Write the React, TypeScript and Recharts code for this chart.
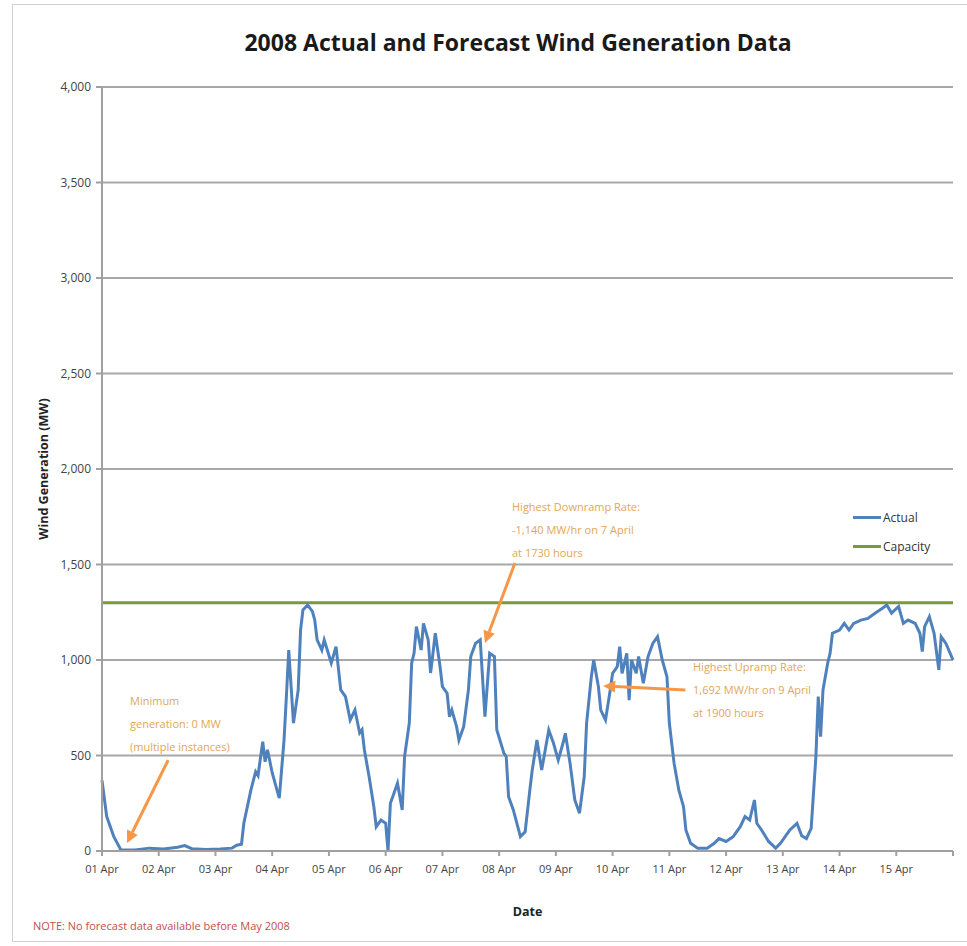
import React from "react";
import {
  LineChart,
  Line,
  XAxis,
  YAxis,
  CartesianGrid,
  Legend,
  ReferenceLine,
} from "recharts";

// hours since 01 Apr 00:00
const hours = [
  0, 2, 5, 8, 14, 20, 26, 32, 35, 38, 44, 50, 55, 57, 59, 60, 63, 65, 66, 68, 69, 70, 72, 74, 75, 77, 78, 79, 81, 83,
  84, 85, 87, 89, 90, 91, 93, 94, 97, 99, 101, 103, 105, 107, 109, 110, 111, 113, 115, 116, 118, 120, 121, 122, 124,
  125, 127, 128, 130, 131, 132, 133, 135, 136, 138, 139, 140, 141, 143, 144, 146, 147, 148, 150, 151, 153, 155, 156,
  158, 160, 162, 164, 166, 167, 170, 171, 172, 174, 177, 179, 181, 182, 184, 186, 189, 191, 193, 195, 196, 198, 200,
  202, 204, 205, 207, 208, 210, 211, 213, 215, 216, 218, 219, 220, 222, 223, 224, 226, 227, 229, 231, 233, 235, 237,
  239, 240, 242, 244, 246, 247, 249, 252, 256, 259, 261, 264, 267, 270, 272, 274, 276, 277, 279, 282, 285, 287, 289,
  291, 294, 296, 298, 300, 302, 303, 304, 305, 307, 308, 309, 312, 314, 316, 318, 321, 324, 327, 330, 332, 334, 337,
  339, 341, 344, 346, 347, 348, 350, 352, 354, 355, 357, 360,
];

const actualMW = [
  370, 180, 75, 5, 5, 15, 10, 20, 28, 12, 8, 10, 15, 30, 35, 145, 320, 415, 395, 572, 467, 530, 410, 320, 277, 580, 808,
  1052, 670, 843, 1157, 1262, 1288, 1255, 1209, 1105, 1052, 1105, 984, 1070, 843, 808, 686, 738, 618, 635, 529, 389,
  232, 127, 162, 145, 0, 250, 320, 355, 215, 494, 670, 984, 1035, 1175, 1052, 1192, 1105, 932, 1035, 1140, 966, 860,
  826, 703, 738, 651, 581, 651, 843, 1018, 1087, 1105, 703, 1035, 1018, 635, 512, 494, 284, 215, 75, 100, 320, 424, 581,
  424, 633, 564, 476, 564, 616, 460, 267, 198, 390, 670, 912, 1000, 860, 738, 686, 843, 930, 966, 1070, 930, 1035, 790,
  1000, 930, 1018, 878, 1018, 1087, 1122, 1000, 912, 670, 460, 320, 232, 110, 40, 15, 15, 40, 65, 50, 75, 127, 180, 162,
  267, 145, 110, 50, 15, 40, 75, 110, 145, 80, 65, 118, 494, 808, 598, 843, 984, 1035, 1140, 1157, 1192, 1157, 1192,
  1209, 1218, 1245, 1270, 1288, 1245, 1280, 1192, 1209, 1192, 1140, 1044, 1175, 1227, 1140, 948, 1122, 1087, 1000,
];

const CAPACITY = 1300;

const dayLabels = [
  "01 Apr", "02 Apr", "03 Apr", "04 Apr", "05 Apr", "06 Apr", "07 Apr", "08 Apr",
  "09 Apr", "10 Apr", "11 Apr", "12 Apr", "13 Apr", "14 Apr", "15 Apr",
];
const xTicks = [0, 24, 48, 72, 96, 120, 144, 168, 192, 216, 240, 264, 288, 312, 336, 360];
const yTicks = [0, 500, 1000, 1500, 2000, 2500, 3000, 3500, 4000];

// annotation arrows, in data units (hour, MW)
const arrows = [
  { from: { x: 28, y: 476 }, to: { x: 10.6, y: 42 } },
  { from: { x: 174.7, y: 1508 }, to: { x: 162, y: 1089 } },
  { from: { x: 246.8, y: 843 }, to: { x: 212, y: 864 } },
];

const notes = [
  { left: 130, top: 689, lines: ["Minimum", "generation: 0 MW", "(multiple instances)"] },
  { left: 512, top: 495, lines: ["Highest Downramp Rate:", "-1,140 MW/hr on 7 April", "at 1730 hours"] },
  { left: 693, top: 655, lines: ["Highest Upramp Rate:", "1,692 MW/hr on 9 April", "at 1900 hours"] },
];

const data = hours.map((h, i) => ({ hour: h, actual: actualMW[i], capacity: CAPACITY }));

const ORANGE = "#F79646";
const FONT = "'Open Sans', sans-serif";

function Arrow(props: any) {
  const { x1, y1, x2, y2 } = props;
  const dx = x2 - x1;
  const dy = y2 - y1;
  const len = Math.sqrt(dx * dx + dy * dy) || 1;
  const ux = dx / len;
  const uy = dy / len;
  const hl = 12;
  const hw = 6;
  const bx = x2 - ux * hl;
  const by = y2 - uy * hl;
  const pts = `${x2},${y2} ${bx - uy * hw},${by + ux * hw} ${bx + uy * hw},${by - ux * hw}`;
  return (
    <g>
      <line x1={x1} y1={y1} x2={bx} y2={by} stroke={ORANGE} strokeWidth={3} />
      <polygon points={pts} fill={ORANGE} />
    </g>
  );
}

function LegendBox() {
  const items = [
    { name: "Actual", color: "#4F81BD" },
    { name: "Capacity", color: "#7A9A3A" },
  ];
  return (
    <div style={{ fontFamily: FONT, fontSize: 12, color: "#333" }}>
      {items.map((it) => (
        <div key={it.name} style={{ display: "flex", alignItems: "center", height: 29 }}>
          <span style={{ display: "inline-block", width: 28, height: 3, background: it.color, marginRight: 2 }} />
          <span>{it.name}</span>
        </div>
      ))}
    </div>
  );
}

export default function App() {
  return (
    <div style={{ position: "absolute", left: 0, top: 0, width: 967, height: 946, background: "#fff" }}>
      <div
        style={{
          position: "absolute",
          left: 12,
          top: 4,
          width: 960,
          height: 936,
          border: "1px solid #d0d0d0",
        }}
      />
      <div
        style={{
          position: "absolute",
          left: 0,
          top: 26,
          width: 1036,
          textAlign: "center",
          fontFamily: FONT,
          fontWeight: 700,
          fontSize: 23,
          color: "#1a1a1a",
        }}
      >
        2008 Actual and Forecast Wind Generation Data
      </div>
      <LineChart width={967} height={946} data={data} margin={{ top: 87, right: 14, bottom: 65, left: 30 }}>
        <CartesianGrid vertical={false} stroke="#a8a8a8" strokeWidth={2} />
        <XAxis
          dataKey="hour"
          type="number"
          domain={[0, 360]}
          ticks={xTicks}
          interval={0}
          tickFormatter={(v: number) => dayLabels[v / 24] ?? ""}
          height={30}
          stroke="#a0a0a0"
          strokeWidth={2}
          tickSize={5}
          tickMargin={9}
          tick={{ fill: "#444", fontSize: 11, fontFamily: FONT }}
          label={{ value: "Date", position: "bottom", offset: 26, fill: "#222", fontSize: 12.5, fontWeight: 700, fontFamily: FONT }}
        />
        <YAxis
          domain={[0, 4000]}
          ticks={yTicks}
          interval={0}
          width={72}
          tickFormatter={(v: number) => v.toLocaleString("en-US")}
          stroke="#a0a0a0"
          strokeWidth={2}
          tickSize={6}
          tickMargin={5}
          tick={{ fill: "#444", fontSize: 12, fontFamily: FONT }}
          label={{
            value: "Wind Generation (MW)",
            angle: -90,
            position: "insideLeft",
            offset: 14,
            style: { textAnchor: "middle", fill: "#222", fontSize: 12.5, fontWeight: 700, fontFamily: FONT },
          }}
        />
        <Line
          dataKey="capacity"
          name="Capacity"
          stroke="#7A9A3A"
          strokeWidth={3}
          dot={false}
          isAnimationActive={false}
        />
        <Line
          dataKey="actual"
          name="Actual"
          stroke="#4F81BD"
          strokeWidth={3}
          dot={false}
          isAnimationActive={false}
        />
        {arrows.map((a, i) => (
          <ReferenceLine key={i} segment={[a.from, a.to]} ifOverflow="visible" shape={Arrow} />
        ))}
        <Legend
          layout="vertical"
          align="center"
          verticalAlign="middle"
          content={() => <LegendBox />}
          wrapperStyle={{ left: 853, top: 503, width: 100 }}
        />
      </LineChart>
      {notes.map((n, i) => (
        <div
          key={i}
          style={{
            position: "absolute",
            left: n.left,
            top: n.top,
            fontFamily: FONT,
            fontSize: 11,
            lineHeight: "23px",
            color: "#E2A659",
            whiteSpace: "nowrap",
          }}
        >
          {n.lines.map((l) => (
            <div key={l}>{l}</div>
          ))}
        </div>
      ))}
      <div
        style={{
          position: "absolute",
          left: 33,
          top: 918,
          fontFamily: FONT,
          fontSize: 11,
          color: "#C0504D",
          whiteSpace: "nowrap",
        }}
      >
        NOTE: No forecast data available before May 2008
      </div>
    </div>
  );
}
